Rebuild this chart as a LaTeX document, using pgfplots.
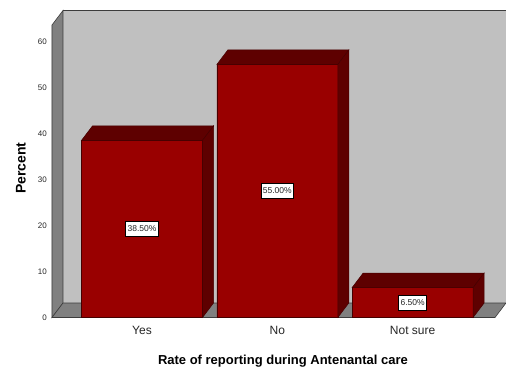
\documentclass[border=0pt]{standalone}
\usepackage{pgfplots}
\pgfplotsset{compat=1.18}
\usepackage{pgfplotstable}
\usepackage{fontspec}
\setmainfont{Liberation Sans}
\definecolor{frontred}{RGB}{153,0,0}
\definecolor{darkred}{RGB}{94,0,0}
\definecolor{edgered}{RGB}{70,0,0}
\definecolor{backwall}{RGB}{192,192,192}
\definecolor{sidewall}{RGB}{128,128,128}
\definecolor{edgegray}{RGB}{60,60,60}
\pgfplotstableread{
x v
0 38.5
1 55.0
2 6.5
}\data
\begin{document}
\begin{tikzpicture}
\useasboundingbox (-52pt,-51.5pt) rectangle (454pt,317.5pt);
\begin{axis}[
  x=135.3pt, y=4.6pt,
  xmin=-0.6652, xmax=2.609, ymin=0, ymax=63.587,
  clip=false,
  axis line style={draw=none},
  major tick length=0pt,
  ytick={0,10,...,60},
  xtick={0,1,2},
  xticklabels={Yes,No,Not sure},
  /pgf/number format/assume math mode=true,
  yticklabel style={font=\fontsize{8}{9}\selectfont, text=black!85, anchor=east, inner sep=0pt, xshift=-5pt},
  xticklabel style={font=\fontsize{12}{14}\selectfont, text=black!85, anchor=base, inner sep=0pt, yshift=-16.5pt},
  xlabel={Rate of reporting during Antenantal care},
  ylabel={Percent},
  xlabel style={font=\bfseries\fontsize{13}{15}\selectfont, at={(axis description cs:0.5214,0)}, anchor=base, inner sep=0pt, yshift=-47pt},
  ylabel style={font=\bfseries\fontsize{14}{16}\selectfont, at={(axis description cs:-0.070,0.511)}, anchor=center, inner sep=0pt},
]
% back wall
\fill[backwall] (axis cs:-0.5839,3.152) rectangle (axis cs:2.700,66.739);
\draw[edgegray, line width=1.8pt] (axis cs:-0.5839,66.739) -- (axis cs:2.700,66.739);
% left wall
\fill[sidewall, draw=edgegray, line width=0.6pt] (axis cs:-0.6652,0) -- (axis cs:-0.5839,3.152) -- (axis cs:-0.5839,66.739) -- (axis cs:-0.6652,63.587) -- cycle;
% floor
\fill[sidewall, draw=edgegray, line width=0.6pt] (axis cs:-0.6652,0) -- (axis cs:2.609,0) -- (axis cs:2.6903,3.152) -- (axis cs:-0.5839,3.152) -- cycle;
% front faces
\addplot[ybar, bar width=121pt, fill=frontred, draw=edgered, line width=0.5pt] table[x=x, y=v]{\data};
% 3D top, side faces and value labels
\addplot[only marks, scatter, mark=text, text mark={},
  visualization depends on={rawy \as \val},
  scatter/@pre marker code/.code={%
    \pgfmathsetmacro\hb{14.5-\val*4.6}%
    \pgfmathsetmacro\hm{-\val*2.3}%
    \pgfmathsetmacro\hf{-\val*4.6}%
    \fill[darkred, draw=edgered, line width=0.5pt] (-60.5pt,0pt) -- (60.5pt,0pt) -- (71.5pt,14.5pt) -- (-49.5pt,14.5pt) -- cycle;
    \fill[darkred, draw=edgered, line width=0.5pt] (60.5pt,0pt) -- (71.5pt,14.5pt) -- (71.5pt,\hb pt) -- (60.5pt,\hf pt) -- cycle;
    \node[fill=white, draw=black, text=black!85, line width=0.6pt, inner xsep=2pt, inner ysep=0pt, minimum height=15pt, font=\fontsize{8.5}{10}\selectfont] at (0pt,\hm pt) {\pgfmathprintnumber[fixed, fixed zerofill, precision=2, assume math mode=true]{\val}\%};
  },
  scatter/@post marker code/.code={},
] table[x=x, y=v]{\data};
\end{axis}
\end{tikzpicture}
\end{document}
